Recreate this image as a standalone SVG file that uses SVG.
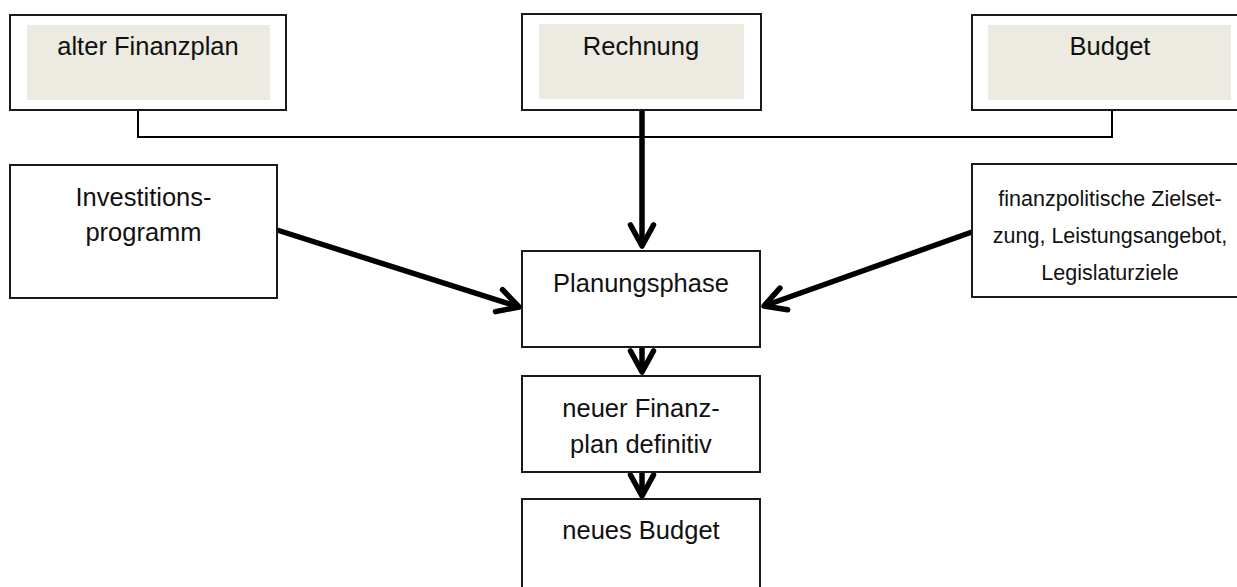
<svg xmlns="http://www.w3.org/2000/svg" width="1237" height="587" viewBox="0 0 1237 587">
<defs>
<style>
.box{fill:#fff;stroke:#1a1a1a;stroke-width:2}
.inner{fill:#ECEAE1;stroke:none}
.t{font-family:"Liberation Sans",Arial,sans-serif;font-size:25.5px;fill:#111;text-anchor:middle}
.ts{font-family:"Liberation Sans",Arial,sans-serif;font-size:21.5px;fill:#111;text-anchor:middle}
.thin{fill:none;stroke:#000;stroke-width:2}
.thick{fill:none;stroke:#000;stroke-width:5.5;marker-end:url(#chev)}
</style>
<marker id="chev" markerUnits="userSpaceOnUse" markerWidth="50" markerHeight="50" viewBox="-30 -25 50 50" refX="0" refY="0" orient="auto" overflow="visible">
<path d="M-21,-11.5 L0,0 L-21,11.5" fill="none" stroke="#000" stroke-width="5.5" stroke-linecap="round" stroke-linejoin="round"/>
</marker>
</defs>
<g id="connectors">
<path class="thin" d="M138,110 V137 H1112 V110"/>
<path class="thick" d="M642,110 L642,246"/>
<path class="thick" d="M642,347 L642,372"/>
<path class="thick" d="M642,472 L642,496"/>
<path class="thick" d="M277,230 L519,307"/>
<path class="thick" d="M972,232 L764,306"/>
</g>
<g id="alter-finanzplan">
<rect class="box" x="10" y="15" width="276" height="95"/>
<rect class="inner" x="27" y="25" width="243" height="75"/>
<text class="t" x="148" y="55">alter Finanzplan</text>
</g>
<g id="rechnung">
<rect class="box" x="522" y="14" width="239" height="96"/>
<rect class="inner" x="539" y="24" width="205" height="75"/>
<text class="t" x="641" y="55">Rechnung</text>
</g>
<g id="budget">
<rect class="box" x="972" y="15" width="276" height="95"/>
<rect class="inner" x="988" y="25" width="243" height="75"/>
<text class="t" x="1110" y="55">Budget</text>
</g>
<g id="investitionsprogramm">
<rect class="box" x="10" y="165" width="267" height="133"/>
<text class="t" x="143.5" y="206">Investitions-</text>
<text class="t" x="143.5" y="241">programm</text>
</g>
<g id="finanzpolitische-zielsetzung">
<rect class="box" x="972" y="164" width="276" height="133"/>
<text class="ts" x="1110" y="206">finanzpolitische Zielset-</text>
<text class="ts" x="1110" y="243">zung, Leistungsangebot,</text>
<text class="ts" x="1110" y="280">Legislaturziele</text>
</g>
<g id="planungsphase">
<rect class="box" x="522" y="251" width="238" height="96"/>
<text class="t" x="641" y="292">Planungsphase</text>
</g>
<g id="neuer-finanzplan">
<rect class="box" x="522" y="376" width="238" height="96"/>
<text class="t" x="641" y="417">neuer Finanz-</text>
<text class="t" x="641" y="453">plan definitiv</text>
</g>
<g id="neues-budget">
<rect class="box" x="522" y="499" width="238" height="110"/>
<text class="t" x="641" y="539">neues Budget</text>
</g>
</svg>
